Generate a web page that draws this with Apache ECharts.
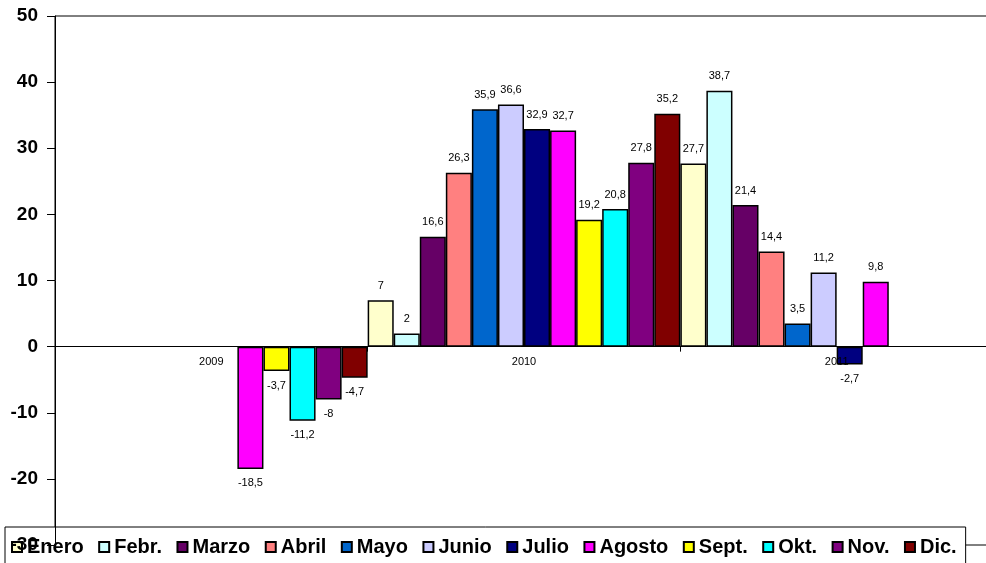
<!DOCTYPE html>
<html>
<head>
<meta charset="utf-8">
<script src="https://cdn.jsdelivr.net/npm/echarts@6/dist/echarts.min.js"></script>
<style>
  html, body { margin: 0; padding: 0; background: #fff; }
  #chart { width: 986px; height: 563px; }
</style>
</head>
<body>
<div id="chart"></div>
<script>
// años en el eje x
let years = ['2009', '2010', '2011']
let months = ['Enero', 'Febr.', 'Marzo', 'Abril', 'Mayo', 'Junio', 'Julio', 'Agosto', 'Sept.', 'Okt.', 'Nov.', 'Dic.']
let colors = ['#FFFFCC', '#CCFFFF', '#660066', '#FF8080', '#0066CC', '#CCCCFF', '#000080', '#FF00FF', '#FFFF00', '#00FFFF', '#800080', '#800000']

// valores por mes (2009, 2010, 2011)
let enero = [null, 7, 27.7]
let febr = [null, 2, 38.7]
let marzo = [null, 16.6, 21.4]
let abril = [null, 26.3, 14.4]
let mayo = [null, 35.9, 3.5]
let junio = [null, 36.6, 11.2]
let julio = [null, 32.9, -2.7]
let agosto = [-18.5, 32.7, 9.8]
let sept = [-3.7, 19.2, null]
let okt = [-11.2, 20.8, null]
let nov = [-8, 27.8, null]
let dic = [-4.7, 35.2, null]
let values = [enero, febr, marzo, abril, mayo, junio, julio, agosto, sept, okt, nov, dic]

let yTicks = { min: -30, max: 50, interval: 10 }

let font = '"Liberation Sans", Arial, sans-serif'

let series = []
for (let i = 0; i < months.length; i++) {
    series.push({
        name: months[i],
        type: 'bar',
        barGap: 0,
        barCategoryGap: 0,
        itemStyle: { color: colors[i], borderColor: '#000', borderWidth: 1.5 },
        label: {
            show: true,
            distance: 9,
            color: '#000',
            fontSize: 11,
            fontFamily: font,
            formatter: function (p) { return String(p.value).replace('.', ',') }
        },
        data: values[i].map(function (v) {
            if (v == null) return '-'
            return { value: v, label: { position: v < 0 ? 'bottom' : 'top' } }
        })
    })
}

let myChart = echarts.init(document.getElementById('chart'))
let option = {
    animation: false,
    backgroundColor: '#fff',
    grid: {
        left: 55,
        right: -7,
        top: 16,
        bottom: 18,
        outerBoundsMode: 'none',
        show: true,
        borderColor: '#000',
        borderWidth: 1
    },
    legend: {
        data: months,
        left: 5,
        top: 527,
        z: 4,
        icon: 'rect',
        itemWidth: 10,
        itemHeight: 10,
        itemGap: 14.5,
        padding: [10, 9, 10, 6],
        backgroundColor: '#fff',
        borderColor: '#000',
        borderWidth: 1,
        textStyle: { color: '#000', fontSize: 20, fontWeight: 'bold', fontFamily: font }
    },
    xAxis: {
        type: 'category',
        data: years,
        z: 3,
        axisLine: { onZero: true, lineStyle: { color: '#000', width: 1 } },
        axisTick: { show: true, length: 5, lineStyle: { color: '#000' } },
        // las etiquetas quedan abajo del grid, se suben hasta el cero
        axisLabel: { show: true, color: '#000', fontSize: 11, fontFamily: font, margin: -189 },
        splitLine: { show: false }
    },
    yAxis: {
        type: 'value',
        min: yTicks.min,
        max: yTicks.max,
        interval: yTicks.interval,
        zlevel: 1,
        axisLine: { show: true, lineStyle: { color: '#000', width: 1 } },
        axisTick: { show: true, length: 8, lineStyle: { color: '#000' } },
        axisLabel: { color: '#000', fontSize: 19, fontWeight: 'bold', fontFamily: font, margin: 17 },
        splitLine: { show: false }
    },
    series: series
}
myChart.setOption(option)
</script>
</body>
</html>
